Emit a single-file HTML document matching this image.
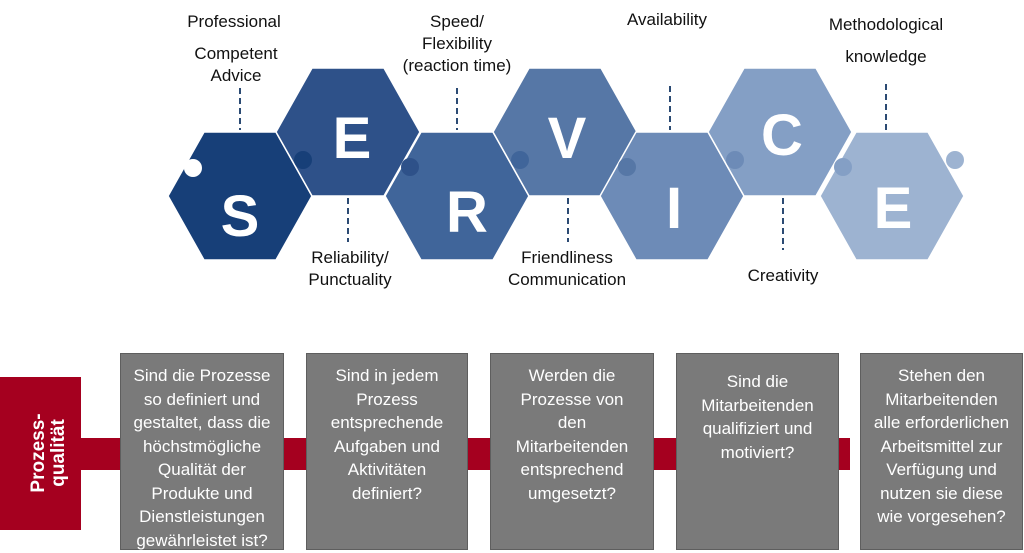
<!DOCTYPE html>
<html><head><meta charset="utf-8"><style>
body{margin:0;width:1024px;height:553px;background:#fff;position:relative;overflow:hidden;font-family:"Liberation Sans",sans-serif}
.l{position:absolute;font-size:17px;color:#111;text-align:center;line-height:22px;transform:translateX(-50%);white-space:nowrap}
.b{position:absolute;top:353px;height:197px;background:#7a7a7a;border:1px solid #5e5e5e;color:#fff;font-size:17px;line-height:23.5px;text-align:center;box-sizing:border-box;padding-top:10px}
</style></head><body>
<svg width="1024" height="553" style="position:absolute;left:0;top:0">
<g stroke="#fff" stroke-width="1.5">
<polygon points="168,196 204,132 276,132 312,196 276,260 204,260" fill="#173f78"/>
<polygon points="276,132 312,68 384,68 420,132 384,196 312,196" fill="#2e5189"/>
<polygon points="385,196 421,132 493,132 529,196 493,260 421,260" fill="#40659a"/>
<polygon points="493,132 529,68 601,68 637,132 601,196 529,196" fill="#5677a6"/>
<polygon points="600,196 636,132 708,132 744,196 708,260 636,260" fill="#6d8bb7"/>
<polygon points="708,132 744,68 816,68 852,132 816,196 744,196" fill="#849fc5"/>
<polygon points="820,196 856,132 928,132 964,196 928,260 856,260" fill="#9db3d1"/>
</g>
<circle cx="303" cy="160" r="9" fill="#173f78"/>
<circle cx="410" cy="167" r="9" fill="#2e5189"/>
<circle cx="520" cy="160" r="9" fill="#40659a"/>
<circle cx="627" cy="167" r="9" fill="#5677a6"/>
<circle cx="735" cy="160" r="9" fill="#6d8bb7"/>
<circle cx="843" cy="167" r="9" fill="#849fc5"/>
<circle cx="955" cy="160" r="9" fill="#9db3d1"/>
<circle cx="193" cy="168" r="9" fill="#fff"/>
<g fill="#fff" font-family="Liberation Sans" font-weight="bold" font-size="58" text-anchor="middle">
<text x="240" y="236">S</text><text x="352" y="158">E</text><text x="467" y="232">R</text>
<text x="567" y="158">V</text><text x="674" y="228">I</text><text x="782" y="155">C</text><text x="893" y="228">E</text>
</g>
<g stroke="#2b4a73" stroke-width="2" stroke-dasharray="6,4">
<line x1="240" y1="88" x2="240" y2="130"/><line x1="348" y1="198" x2="348" y2="242"/>
<line x1="457" y1="88" x2="457" y2="130"/><line x1="568" y1="198" x2="568" y2="242"/>
<line x1="670" y1="86" x2="670" y2="130"/><line x1="783" y1="198" x2="783" y2="250"/>
<line x1="886" y1="84" x2="886" y2="130"/>
</g>
<rect x="0" y="438" width="850" height="32" fill="#a5001f"/>
<rect x="0" y="377" width="81" height="153" fill="#a5001f"/>
<text transform="translate(44,453) rotate(-90)" fill="#fff" font-family="Liberation Sans" font-weight="bold" font-size="19" text-anchor="middle">Prozess-</text>
<text transform="translate(64,453) rotate(-90)" fill="#fff" font-family="Liberation Sans" font-weight="bold" font-size="19" text-anchor="middle">qualität</text>
</svg>
<div class="l" style="left:234px;top:11px">Professional</div>
<div class="l" style="left:236px;top:43px">Competent<br>Advice</div>
<div class="l" style="left:350px;top:247px">Reliability/<br>Punctuality</div>
<div class="l" style="left:457px;top:11px">Speed/<br>Flexibility<br>(reaction time)</div>
<div class="l" style="left:567px;top:247px">Friendliness<br>Communication</div>
<div class="l" style="left:667px;top:9px">Availability</div>
<div class="l" style="left:783px;top:265px">Creativity</div>
<div class="l" style="left:886px;top:9px;line-height:32px">Methodological<br>knowledge</div>
<div class="b" style="left:120px;width:164px">Sind die Prozesse<br>so definiert und<br>gestaltet, dass die<br>höchstmögliche<br>Qualität der<br>Produkte und<br>Dienstleistungen<br>gewährleistet ist?</div>
<div class="b" style="left:306px;width:162px">Sind in jedem<br>Prozess<br>entsprechende<br>Aufgaben und<br>Aktivitäten<br>definiert?</div>
<div class="b" style="left:490px;width:164px">Werden die<br>Prozesse von<br>den<br>Mitarbeitenden<br>entsprechend<br>umgesetzt?</div>
<div class="b" style="left:676px;width:163px;padding-top:16px">Sind die<br>Mitarbeitenden<br>qualifiziert und<br>motiviert?</div>
<div class="b" style="left:860px;width:163px">Stehen den<br>Mitarbeitenden<br>alle erforderlichen<br>Arbeitsmittel zur<br>Verfügung und<br>nutzen sie diese<br>wie vorgesehen?</div>
</body></html>
